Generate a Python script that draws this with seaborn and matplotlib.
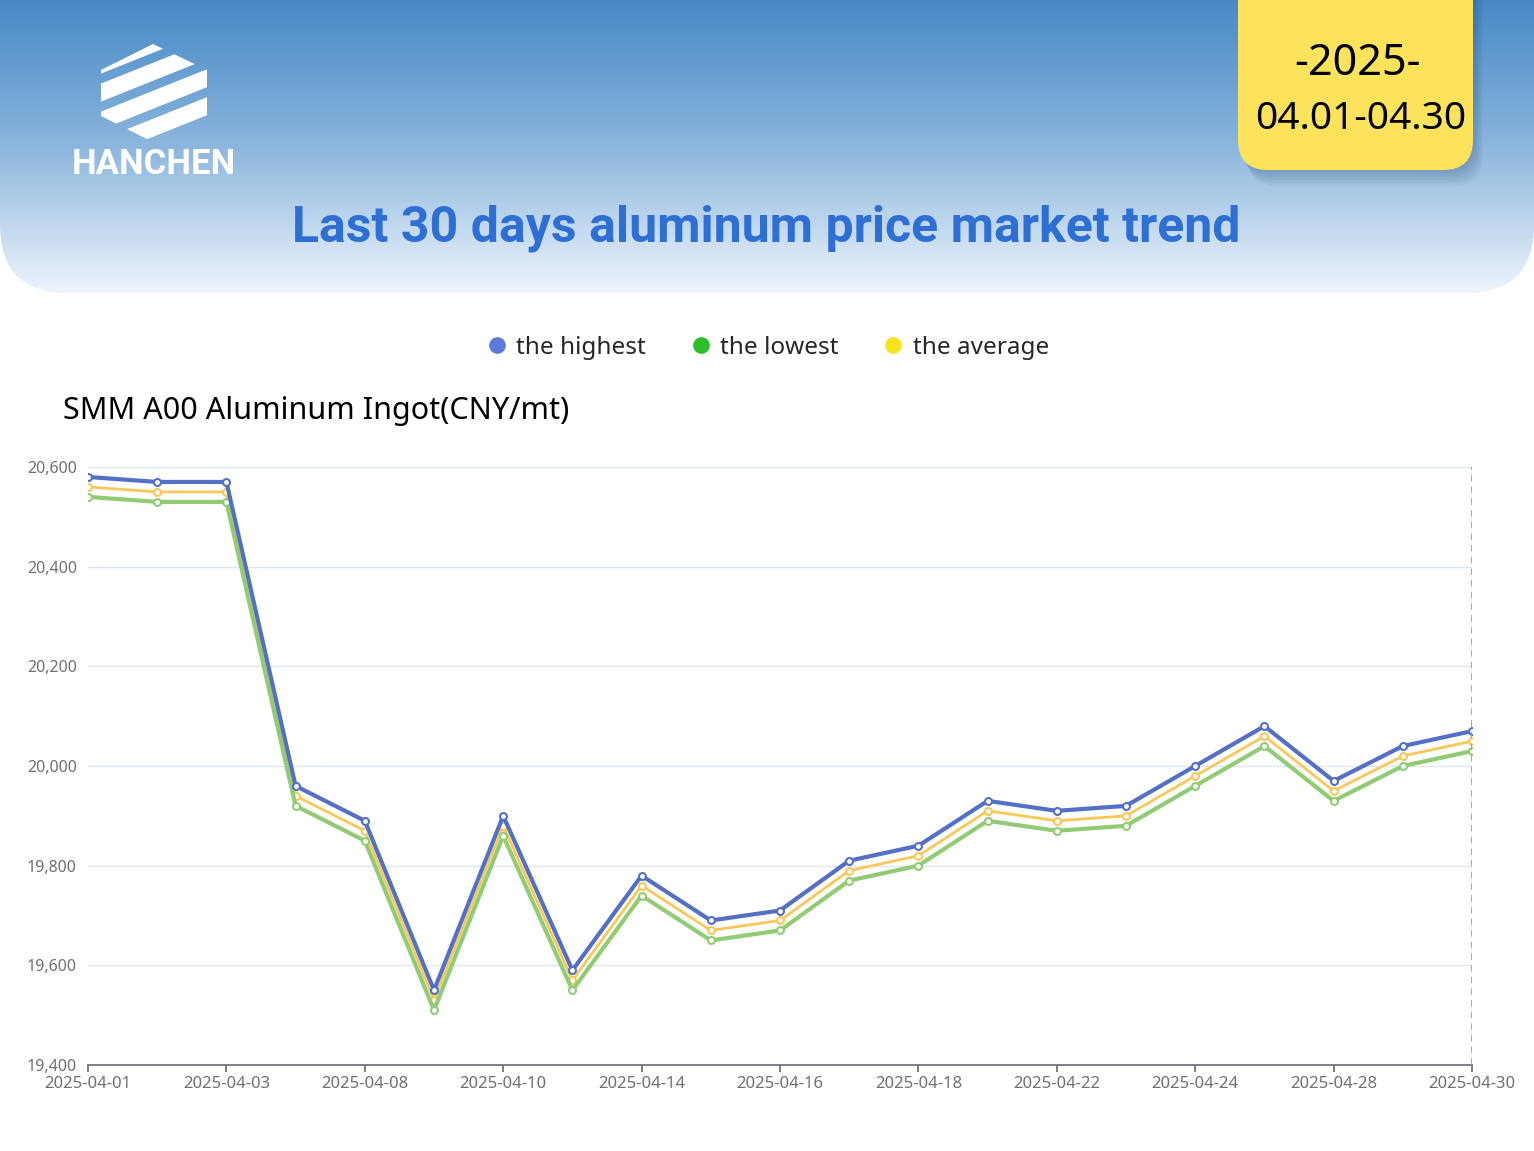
import numpy as np
import pandas as pd
import seaborn as sns
import matplotlib.pyplot as plt
from matplotlib.patches import FancyBboxPatch, Polygon
from matplotlib.lines import Line2D

sns.set_theme(style='white')
plt.rcParams['font.family'] = ['Noto Sans', 'DejaVu Sans']

# SMM A00 aluminium ingot, April 2025 trading days
dates = ['2025-04-01', '2025-04-02', '2025-04-03', '2025-04-07', '2025-04-08',
         '2025-04-09', '2025-04-10', '2025-04-11', '2025-04-14', '2025-04-15',
         '2025-04-16', '2025-04-17', '2025-04-18', '2025-04-21', '2025-04-22',
         '2025-04-23', '2025-04-24', '2025-04-25', '2025-04-28', '2025-04-29',
         '2025-04-30']
highest = [20580, 20570, 20570, 19960, 19890, 19550, 19900, 19590, 19780, 19690,
           19710, 19810, 19840, 19930, 19910, 19920, 20000, 20080, 19970, 20040, 20070]
lowest = [20540, 20530, 20530, 19920, 19850, 19510, 19860, 19550, 19740, 19650,
          19670, 19770, 19800, 19890, 19870, 19880, 19960, 20040, 19930, 20000, 20030]
average = [20560, 20550, 20550, 19940, 19870, 19530, 19880, 19570, 19760, 19670,
           19690, 19790, 19820, 19910, 19890, 19900, 19980, 20060, 19950, 20020, 20050]
series_names = ['the highest', 'the lowest', 'the average']
line_colors = ['#5470c6', '#91cc75', '#fac858']
legend_colors = ['#5b7bd8', '#2bbf2b', '#f7e31b']

df = pd.DataFrame({'idx': np.arange(len(dates)), 'date': dates,
                   'the highest': highest, 'the lowest': lowest,
                   'the average': average})
long = df.melt(id_vars=['idx', 'date'], var_name='series', value_name='price')

W, H = 1534, 1151
fig = plt.figure(figsize=(W / 100, H / 100), dpi=100)

# background layer in pixel coordinates
bg = fig.add_axes([0, 0, 1, 1])
bg.set_xlim(0, W)
bg.set_ylim(H, 0)
bg.axis('off')

# header gradient with rounded bottom corners
header = FancyBboxPatch((0, -200), W, 493, boxstyle='round,pad=0,rounding_size=68',
                        facecolor='none', edgecolor='none')
bg.add_patch(header)
top = np.array([70, 137, 198]) / 255
mid = np.array([140, 182, 221]) / 255
bot = np.array([238, 245, 252]) / 255
t = np.linspace(0, 1, 300)[:, None]
grad = np.where(t < 0.5, top + (mid - top) * (t / 0.5), mid + (bot - mid) * ((t - 0.5) / 0.5))
img = bg.imshow(grad[:, None, :].repeat(2, axis=1), extent=[0, W, 293, 0],
                aspect='auto', zorder=1)
img.set_clip_path(header)

# logo: hexagon of white stripes
hexagon = Polygon([(153, 44), (207, 70), (207, 116), (153, 142), (101, 116), (101, 70)],
                  closed=True, facecolor='none', edgecolor='none', transform=bg.transData)
bg.add_patch(hexagon)
for off in [-60, -32, -4, 24, 52]:
    stripe = Polygon([(90, 92 + off), (220, 40 + off), (220, 58 + off), (90, 110 + off)],
                     closed=True, facecolor='white', edgecolor='none', zorder=3)
    bg.add_patch(stripe)
    stripe.set_clip_path(hexagon)
bg.text(154, 164, 'HANCHEN', color='white', fontsize=25, fontweight='bold',
        family='Roboto', ha='center', va='center', zorder=3)

# title
bg.text(766, 228, 'Last 30 days aluminum price market trend', color='#2f6fd3',
        fontsize=36, fontweight='bold', family='Roboto', ha='center', va='center', zorder=3)

# yellow date badge with soft shadow
for i in range(5):
    s = 4 + i * 3
    bg.add_patch(FancyBboxPatch((1238 + s * 0.6, -60 + s), 235, 230,
                                boxstyle='round,pad=0,rounding_size=30',
                                facecolor='#1c3c60', edgecolor='none', alpha=0.05, zorder=3))
bg.add_patch(FancyBboxPatch((1238, -60), 235, 230, boxstyle='round,pad=0,rounding_size=30',
                            facecolor='#fde25c', edgecolor='none', zorder=4))
bg.text(1357, 64, '-2025-', fontsize=31, ha='center', va='center', color='black', zorder=5)
bg.text(1361, 119, '04.01-04.30', fontsize=28, ha='center', va='center', color='black', zorder=5)

# subtitle
bg.text(63, 411, 'SMM A00 Aluminum Ingot(CNY/mt)', fontsize=22, ha='left', va='center',
        color='black', zorder=3)

# legend
handles = [Line2D([], [], marker='o', ls='none', markersize=11, color=c) for c in legend_colors]
fig.legend(handles, series_names, loc='center', bbox_to_anchor=(0.5, 1 - 348 / H), ncol=3,
           frameon=False, fontsize=17.5, handletextpad=0.3, columnspacing=1.75,
           handlelength=1.0)

# main chart
ax = fig.add_axes([88 / W, 1 - 1065 / H, (1472 - 88) / W, (1065 - 467) / H])
ax.patch.set_alpha(0)
order = [('the average', 2.0), ('the lowest', 3.0), ('the highest', 3.0)]
for name, lw in order:
    c = line_colors[series_names.index(name)]
    sns.lineplot(data=long[long['series'] == name], x='idx', y='price', ax=ax,
                 color=c, lw=lw, marker='o', markersize=5, markerfacecolor='white',
                 markeredgecolor=c, markeredgewidth=1.5, legend=False, zorder=3)

ax.set_xlim(0, len(dates) - 1)
ax.set_ylim(19400, 20600)
yt = np.arange(19400, 20601, 200)
ax.set_yticks(yt)
ax.set_yticklabels([f'{v:,}' for v in yt], color='#6e7079', fontsize=11.5)
ax.set_xticks(df['idx'][::2])
ax.set_xticklabels(df['date'][::2], color='#6e7079', fontsize=12)
ax.grid(axis='y', color='#e0e6f1', lw=1)
ax.grid(axis='x', visible=False)
for sp in ['top', 'right', 'left']:
    ax.spines[sp].set_visible(False)
ax.spines['bottom'].set_color('#6e7079')
ax.tick_params(axis='x', length=5, color='#6e7079', pad=3, bottom=True, direction='out')
ax.tick_params(axis='y', length=0, pad=8)
ax.axvline(len(dates) - 1, color='#999999', ls=(0, (4, 3)), lw=1.2, zorder=4)
ax.set_xlabel('')
ax.set_ylabel('')

fig.savefig('out.png', dpi=100)
